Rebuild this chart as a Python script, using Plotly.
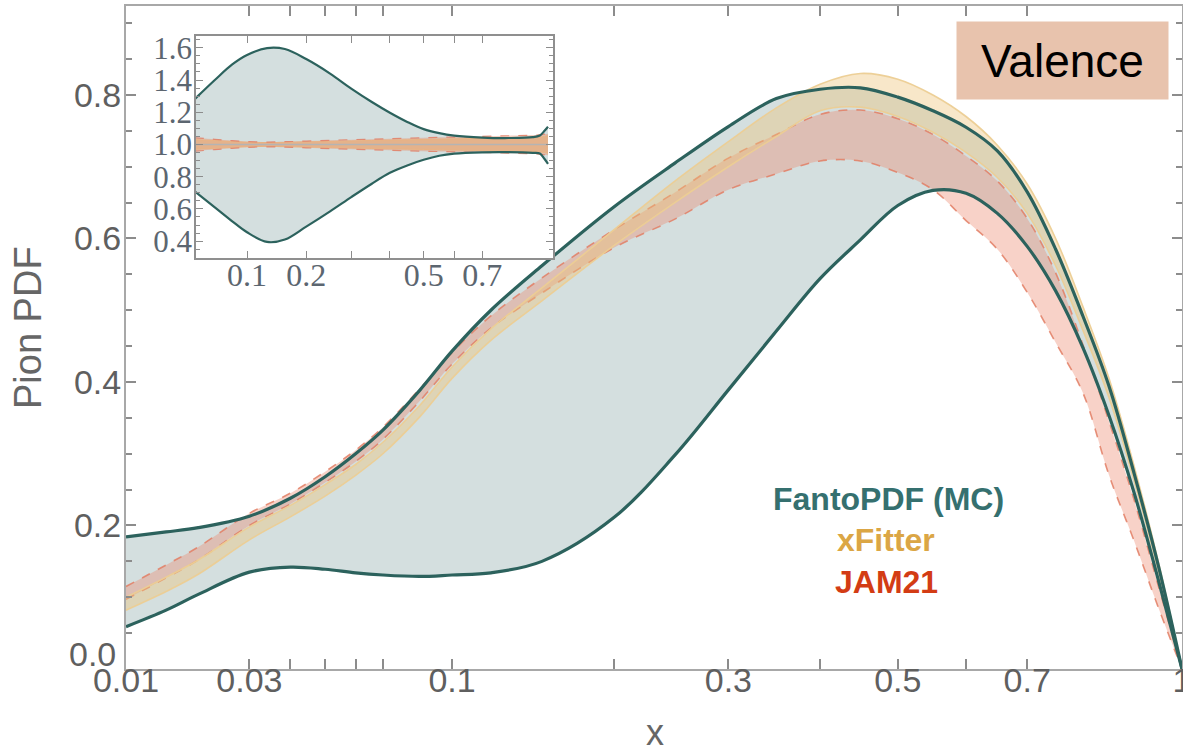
import numpy as np
import plotly.graph_objects as go

# ---------------- data ----------------
x_main = [0.01, 0.015, 0.02, 0.03, 0.04, 0.05, 0.06, 0.07, 0.085, 0.1, 0.12, 0.15, 0.2, 0.25,
          0.3, 0.35, 0.4, 0.45, 0.5, 0.55, 0.6, 0.65, 0.7, 0.75, 0.8, 0.85, 0.9, 0.95, 1.0]
fanto_hi = [0.184, 0.191, 0.197, 0.213, 0.238, 0.268, 0.300, 0.333, 0.388, 0.443, 0.500, 0.562, 0.644, 0.705,
            0.756, 0.795, 0.808, 0.810, 0.797, 0.778, 0.755, 0.722, 0.665, 0.585, 0.492, 0.394, 0.272, 0.143, 0.0]
fanto_lo = [0.059, 0.082, 0.104, 0.135, 0.142, 0.139, 0.134, 0.131, 0.129, 0.131, 0.134, 0.150, 0.211, 0.298,
            0.389, 0.471, 0.544, 0.598, 0.646, 0.667, 0.663, 0.635, 0.589, 0.527, 0.448, 0.353, 0.245, 0.123, 0.0]
jam_hi = [0.115, 0.145, 0.170, 0.217, 0.245, 0.275, 0.305, 0.337, 0.390, 0.441, 0.492, 0.545, 0.612, 0.664,
          0.712, 0.745, 0.773, 0.779, 0.767, 0.745, 0.715, 0.680, 0.628, 0.552, 0.452, 0.345, 0.235, 0.115, 0.0]
jam_lo = [0.097, 0.127, 0.152, 0.200, 0.230, 0.260, 0.289, 0.320, 0.373, 0.425, 0.475, 0.524, 0.587, 0.627,
          0.668, 0.690, 0.708, 0.708, 0.692, 0.668, 0.625, 0.585, 0.525, 0.455, 0.385, 0.270, 0.178, 0.085, 0.0]
xfit_hi = [0.100, 0.128, 0.152, 0.198, 0.228, 0.257, 0.285, 0.316, 0.367, 0.421, 0.474, 0.531, 0.612, 0.680,
           0.735, 0.782, 0.815, 0.830, 0.822, 0.800, 0.770, 0.730, 0.676, 0.600, 0.505, 0.405, 0.282, 0.148, 0.0]
xfit_lo = [0.082, 0.108, 0.132, 0.180, 0.212, 0.241, 0.270, 0.300, 0.351, 0.405, 0.458, 0.513, 0.590, 0.650,
           0.700, 0.742, 0.778, 0.783, 0.770, 0.748, 0.720, 0.685, 0.635, 0.562, 0.472, 0.378, 0.262, 0.136, 0.0]

# inset: ratios
x_ins = [0.04, 0.06, 0.08, 0.1, 0.13, 0.16, 0.2, 0.25, 0.3, 0.35, 0.4, 0.45, 0.5, 0.55, 0.6,
         0.7, 0.8, 0.9, 0.93, 0.95, 0.965]
r_fanto_hi = [1.28, 1.40, 1.495, 1.555, 1.598, 1.592, 1.53, 1.44, 1.345, 1.265, 1.197, 1.14, 1.095, 1.07, 1.055,
              1.043, 1.04, 1.045, 1.056, 1.085, 1.11]
r_fanto_lo = [0.71, 0.61, 0.525, 0.455, 0.395, 0.41, 0.49, 0.585, 0.675, 0.755, 0.824, 0.87, 0.905, 0.93, 0.943,
              0.951, 0.952, 0.948, 0.944, 0.91, 0.88]
r_jam_hi = [1.042, 1.032, 1.024, 1.018, 1.015, 1.017, 1.021, 1.026, 1.03, 1.033, 1.036, 1.039, 1.042, 1.044, 1.046,
            1.05, 1.054, 1.058, 1.06, 1.064, 1.067]
r_jam_lo = [0.958, 0.968, 0.976, 0.982, 0.985, 0.983, 0.979, 0.974, 0.97, 0.967, 0.964, 0.961, 0.958, 0.956, 0.954,
            0.95, 0.946, 0.942, 0.94, 0.936, 0.933]
r_xfit_hi = [1.03, 1.024, 1.018, 1.014, 1.012, 1.013, 1.016, 1.019, 1.022, 1.025, 1.027, 1.029, 1.031, 1.033, 1.035,
             1.038, 1.041, 1.044, 1.046, 1.05, 1.055]
r_xfit_lo = [0.97, 0.976, 0.982, 0.986, 0.988, 0.987, 0.984, 0.981, 0.978, 0.975, 0.973, 0.971, 0.969, 0.967, 0.965,
             0.962, 0.959, 0.956, 0.954, 0.95, 0.945]
r_ref = 1.0

x_ticks_main = [0.01, 0.03, 0.1, 0.3, 0.5, 0.7, 1.0]
x_ticktext_main = ["0.01", "0.03", "0.1", "0.3", "0.5", "0.7", "1"]
x_minor_main = [0.04, 0.05, 0.06, 0.07, 0.2, 0.4, 0.6]
y_ticks_main = [0.0, 0.2, 0.4, 0.6, 0.8]
x_ticks_ins = [0.1, 0.2, 0.5, 0.7]
x_minor_ins = [0.3, 0.4, 0.6]
y_ticks_ins = [0.4, 0.6, 0.8, 1.0, 1.2, 1.4, 1.6]

# ---------------- scales ----------------
P = 0.35                      # main x axis: power scale
def fx(v):
    return np.asarray(v, dtype=float) ** P
def fs(v):                    # inset x axis: square-root scale
    return np.sqrt(np.asarray(v, dtype=float))

W, H = 1183, 753
ML, MR, MT, MB = 126, 1, 6, 84
def pxx(px):
    return (px - ML) / (W - ML - MR)
def pxy(py):
    return (H - MB - py) / (H - MT - MB)

TEAL = "#2c625d"
FANTO_FILL = "#d4dfdf"
JAM_FILL = "rgba(236,138,110,0.38)"
JAM_LINE = "rgba(226,126,100,0.85)"
XF_FILL = "rgba(238,196,120,0.40)"
XF_LINE = "rgba(236,206,148,0.95)"
SPL = dict(shape="spline", smoothing=1.0)

fig = go.Figure()

def band(xv, lo, hi, fill, lw=0, lcolor=None, dash=None, xa="x", ya="y"):
    ln = dict(width=lw, color=lcolor or fill, dash=dash, **SPL)
    fig.add_trace(go.Scatter(x=xv, y=lo, mode="lines", line=ln, xaxis=xa, yaxis=ya,
                             showlegend=False, hoverinfo="skip"))
    fig.add_trace(go.Scatter(x=xv, y=hi, mode="lines", line=ln, fill="tonexty", fillcolor=fill,
                             xaxis=xa, yaxis=ya, showlegend=False, hoverinfo="skip"))

def line(xv, yv, color, width, dash=None, xa="x", ya="y"):
    fig.add_trace(go.Scatter(x=xv, y=yv, mode="lines", line=dict(color=color, width=width, dash=dash, **SPL),
                             xaxis=xa, yaxis=ya, showlegend=False, hoverinfo="skip"))

# main plot
xm = fx(x_main)
band(xm, fanto_lo, fanto_hi, FANTO_FILL)
band(xm, jam_lo, jam_hi, JAM_FILL, lw=1.6, lcolor=JAM_LINE, dash="dash")
band(xm, xfit_lo, xfit_hi, XF_FILL, lw=1.6, lcolor=XF_LINE)
line(xm, fanto_lo, TEAL, 3.2)
line(xm, fanto_hi, TEAL, 3.2)

# inset
XR2 = [0.2033, 0.9934]
YR2 = [0.2955, 1.673]
fig.add_trace(go.Scatter(x=[XR2[0], XR2[1], XR2[1], XR2[0], XR2[0]],
                         y=[YR2[0], YR2[0], YR2[1], YR2[1], YR2[0]],
                         mode="lines", fill="toself", fillcolor="white", line=dict(width=0),
                         xaxis="x2", yaxis="y2", showlegend=False, hoverinfo="skip"))
xi = fs(x_ins)
band(xi, r_fanto_lo, r_fanto_hi, FANTO_FILL, xa="x2", ya="y2")
band(xi, r_xfit_lo, r_xfit_hi, "rgba(236,190,115,0.55)", lw=1, lcolor=XF_LINE, xa="x2", ya="y2")
band(xi, r_jam_lo, r_jam_hi, "rgba(232,140,105,0.42)", lw=1.2, lcolor=JAM_LINE, dash="dash", xa="x2", ya="y2")
line(xi, [r_ref] * len(x_ins), "#b4b4b4", 1.5, xa="x2", ya="y2")
line(xi, r_fanto_lo, TEAL, 2.2, xa="x2", ya="y2")
line(xi, r_fanto_hi, TEAL, 2.2, xa="x2", ya="y2")

TICKC = "#8c8c8c"
LABC = "#5f5f5f"
SANS = "Liberation Sans, Arial, sans-serif"
SERIF = "Liberation Serif, Times New Roman, serif"

# the "0.0" label sits a little above its tick in the reference: drawn as an annotation
y_ticktext_main = ["" if v == 0 else f"{v:.1f}" for v in y_ticks_main]

fig.update_layout(
    width=W, height=H, margin=dict(l=ML, r=MR, t=MT, b=MB, autoexpand=False),
    paper_bgcolor="white", plot_bgcolor="white", showlegend=False,
    xaxis=dict(range=[float(fx(0.01)), 1.0], tickvals=list(fx(x_ticks_main)), ticktext=x_ticktext_main,
               ticks="inside", ticklen=10, tickwidth=1.5, tickcolor=TICKC,
               minor=dict(tickvals=list(fx(x_minor_main)), ticks="inside", ticklen=10, tickwidth=1.5, tickcolor=TICKC),
               showline=True, linecolor="#a8a8a8", linewidth=2, mirror="ticks", automargin=False,
               showgrid=False, zeroline=False, tickfont=dict(family=SANS, size=34, color=LABC),
               ticklabelstandoff=-20, ticklabeloverflow="allow"),
    yaxis=dict(range=[0, 0.924], tickvals=y_ticks_main, ticktext=y_ticktext_main,
               ticks="inside", ticklen=10, tickwidth=1.5, tickcolor=TICKC,
               minor=dict(dtick=0.05, tick0=0, ticks="inside", ticklen=6, tickwidth=1.5, tickcolor=TICKC),
               showline=True, linecolor="#a8a8a8", linewidth=2, mirror="ticks", automargin=False,
               showgrid=False, zeroline=False, tickfont=dict(family=SANS, size=34, color=LABC),
               ticklabelstandoff=-4),
    xaxis2=dict(domain=[pxx(196), pxx(553)], anchor="y2", range=XR2,
                tickvals=list(fs(x_ticks_ins)), ticktext=[f"{v:g}" for v in x_ticks_ins],
                ticks="inside", ticklen=7, tickwidth=1.2, tickcolor=TICKC,
                minor=dict(tickvals=list(fs(x_minor_ins)), ticks="inside", ticklen=7, tickwidth=1.2, tickcolor=TICKC),
                showline=True, linecolor="#8f8f8f", linewidth=1.6, mirror="ticks", automargin=False,
                showgrid=False, zeroline=False, tickfont=dict(family=SERIF, size=32, color="#5c6670"),
                ticklabelstandoff=-12),
    yaxis2=dict(domain=[pxy(258), pxy(36)], anchor="x2", range=YR2,
                tickvals=y_ticks_ins, ticktext=[f"{v:.1f}" for v in y_ticks_ins],
                ticks="inside", ticklen=7, tickwidth=1.2, tickcolor=TICKC,
                minor=dict(dtick=0.05, tick0=0, ticks="inside", ticklen=4, tickwidth=1.2, tickcolor=TICKC),
                showline=True, linecolor="#8f8f8f", linewidth=1.6, mirror="ticks", automargin=False,
                showgrid=False, zeroline=False, tickfont=dict(family=SERIF, size=31, color="#5c6670"),
                ticklabelstandoff=-4),
)

ann = [
    dict(text="Valence", x=pxx(1062), y=pxy(60.5), xref="paper", yref="paper", showarrow=False,
         bgcolor="#e8c3ad", width=211, height=77, borderpad=0, xanchor="center", yanchor="middle",
         font=dict(family=SANS, size=46, color="black")),
    dict(text="<b>FantoPDF (MC)</b>", x=pxx(888), y=pxy(499), font=dict(family=SANS, size=32, color="#35706f")),
    dict(text="<b>xFitter</b>", x=pxx(886), y=pxy(540), font=dict(family=SANS, size=32, color="#dba645")),
    dict(text="<b>JAM21</b>", x=pxx(886), y=pxy(582), font=dict(family=SANS, size=32, color="#d33c14")),
    dict(text="Pion PDF", x=pxx(28), y=pxy(328), textangle=-90, font=dict(family=SANS, size=38, color="#666666")),
    dict(text="x", x=pxx(655), y=pxy(755), yanchor="bottom", font=dict(family=SANS, size=36, color="#666666")),
    dict(text="0.0", x=pxx(118), y=pxy(654), xanchor="right", font=dict(family=SANS, size=34, color=LABC)),
]
for a in ann:
    a.setdefault("xref", "paper")
    a.setdefault("yref", "paper")
    a.setdefault("showarrow", False)
    a.setdefault("xanchor", "center")
    a.setdefault("yanchor", "middle")
fig.update_layout(annotations=ann)

fig.write_html("out.html")
